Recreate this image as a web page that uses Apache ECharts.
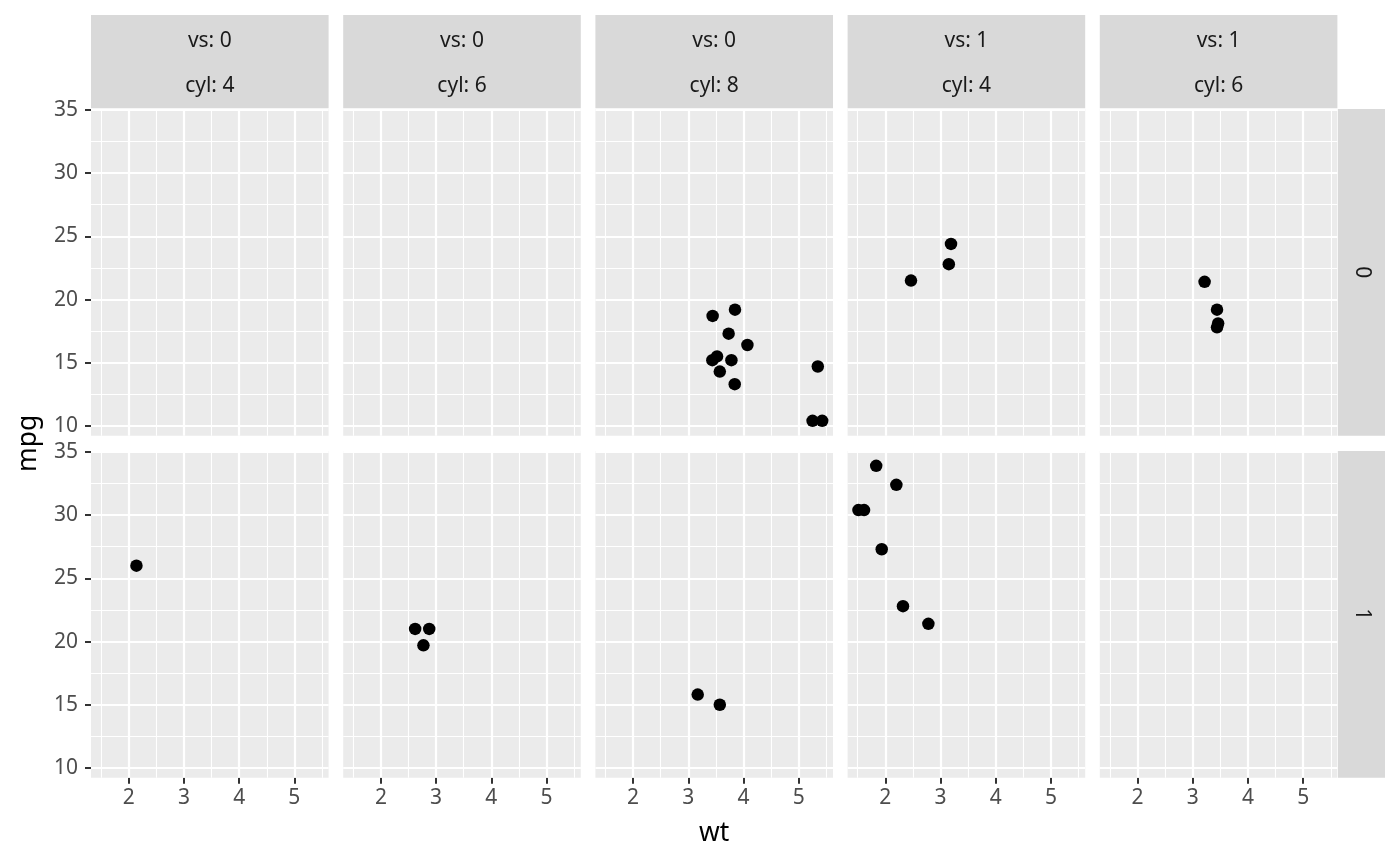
<!DOCTYPE html>
<html>
<head>
<meta charset="utf-8">
<script src="https://cdn.jsdelivr.net/npm/echarts@6/dist/echarts.min.js"></script>
<style>
  html, body { margin: 0; padding: 0; background: #fff; }
  #chart { width: 1400px; height: 866px; }
</style>
</head>
<body>
<div id="chart"></div>
<script>
// mtcars columns (as plotted)
const wt  = [2.620, 2.875, 2.320, 3.215, 3.440, 3.460, 3.570, 3.190, 3.150, 3.440, 3.440, 4.070, 3.730, 3.780, 5.250, 5.424, 5.345, 2.200, 1.615, 1.835, 2.465, 3.520, 3.435, 3.840, 3.845, 1.935, 2.140, 1.513, 3.170, 2.770, 3.570, 2.780]
const mpg = [21.0, 21.0, 22.8, 21.4, 18.7, 18.1, 14.3, 24.4, 22.8, 19.2, 17.8, 16.4, 17.3, 15.2, 10.4, 10.4, 14.7, 32.4, 30.4, 33.9, 21.5, 15.5, 15.2, 13.3, 19.2, 27.3, 26.0, 30.4, 15.8, 19.7, 15.0, 21.4]
const cyl = [6, 6, 4, 6, 8, 6, 8, 4, 4, 6, 6, 8, 8, 8, 8, 8, 8, 4, 4, 4, 4, 8, 8, 8, 8, 4, 4, 4, 8, 6, 8, 4]
const vs  = [0, 0, 1, 1, 0, 1, 0, 1, 1, 1, 1, 0, 0, 0, 0, 0, 0, 1, 1, 1, 1, 0, 0, 0, 0, 1, 0, 1, 0, 0, 0, 1]
const am  = [1, 1, 1, 0, 0, 0, 0, 0, 0, 0, 0, 0, 0, 0, 0, 0, 0, 1, 1, 1, 0, 0, 0, 0, 0, 1, 1, 1, 1, 1, 1, 1]

// facet columns (vs, cyl) and rows (am)
const colVs = [0, 0, 0, 1, 1]
const colCyl = [4, 6, 8, 4, 6]
const rowAm = [0, 1]

// scales and ticks
const xMin = 1.317, xMax = 5.620
const yMin = 9.225, yMax = 35.075
const xMajor = [2, 3, 4, 5]
const xMinor = [1.5, 2.5, 3.5, 4.5, 5.5]
const yMajor = [10, 15, 20, 25, 30, 35]
const yMinor = [12.5, 17.5, 22.5, 27.5, 32.5]

// layout (px)
const left0 = 91, panelW = 237.6, gapX = 14.6
const tops = [109, 451], panelH = 326.7
const stripH = 93.3, rightStripW = 47

const font = "Noto Sans"
const textSize = 21
const titleSize = 26.4
const chart = echarts.init(document.getElementById("chart"), null, { renderer: "canvas" })

const grids = [], xAxes = [], yAxes = [], series = [], graphics = []

rowAm.forEach((a, r) => {
  colVs.forEach((v, c) => {
    const idx = grids.length
    const gl = left0 + c * (panelW + gapX)
    grids.push({ left: gl, top: tops[r], width: panelW, height: panelH, show: true, backgroundColor: "#EBEBEB", borderWidth: 0 })
    const isBottom = r === rowAm.length - 1
    const isLeft = c === 0
    xAxes.push({
      gridIndex: idx, type: "value", min: xMin, max: xMax,
      axisLine: { show: false },
      splitLine: { show: false },
      axisTick: { show: isBottom, customValues: xMajor, length: 6, lineStyle: { color: "#333333", width: 2 } },
      axisLabel: { show: isBottom, customValues: xMajor, margin: 10, color: "#4D4D4D", fontSize: textSize, fontFamily: font }
    })
    yAxes.push({
      gridIndex: idx, type: "value", min: yMin, max: yMax,
      axisLine: { show: false },
      splitLine: { show: false },
      axisTick: { show: isLeft, customValues: yMajor, length: 6, lineStyle: { color: "#333333", width: 2 } },
      axisLabel: { show: isLeft, customValues: yMajor, margin: 13, color: "#4D4D4D", fontSize: textSize, fontFamily: font }
    })

    // panel grid lines drawn through the axis scales
    const lines = []
    xMinor.forEach(x => lines.push({ xAxis: x, lineStyle: { width: 1.1 } }))
    yMinor.forEach(y => lines.push({ yAxis: y, lineStyle: { width: 1.1 } }))
    xMajor.forEach(x => lines.push({ xAxis: x, lineStyle: { width: 2.2 } }))
    yMajor.forEach(y => lines.push({ yAxis: y, lineStyle: { width: 2.2 } }))
    series.push({
      type: "scatter", xAxisIndex: idx, yAxisIndex: idx, data: [], z: 1, silent: true,
      markLine: {
        z: 1, silent: true, symbol: ["none", "none"], animation: false,
        label: { show: false },
        lineStyle: { color: "#FFFFFF", type: "solid" },
        emphasis: { disabled: true },
        data: lines
      }
    })

    const pts = []
    for (let i = 0; i < wt.length; i++) {
      if (vs[i] === v && cyl[i] === colCyl[c] && am[i] === a) pts.push([wt[i], mpg[i]])
    }
    series.push({
      type: "scatter", xAxisIndex: idx, yAxisIndex: idx, data: pts, z: 10,
      symbol: "circle", symbolSize: 12.5, itemStyle: { color: "#000000", opacity: 1 }, animation: false
    })

    // top strips
    if (r === 0) {
      const sy = tops[0] - 0.7 - stripH
      graphics.push({ type: "rect", z: 0, shape: { x: gl, y: sy, width: panelW, height: stripH }, style: { fill: "#D9D9D9" } })
      graphics.push({ type: "text", x: gl + panelW / 2, y: sy + stripH * 0.25 + 2.5, style: { text: "vs: " + v, font: textSize + "px " + font, fill: "#1A1A1A", align: "center", verticalAlign: "middle" } })
      graphics.push({ type: "text", x: gl + panelW / 2, y: sy + stripH * 0.75 + 1.5, style: { text: "cyl: " + colCyl[c], font: textSize + "px " + font, fill: "#1A1A1A", align: "center", verticalAlign: "middle" } })
    }
  })
  // right strips
  const sx = left0 + colVs.length * panelW + (colVs.length - 1) * gapX + 0.6
  graphics.push({ type: "rect", shape: { x: sx, y: tops[r], width: rightStripW, height: panelH }, style: { fill: "#D9D9D9" } })
  graphics.push({ type: "text", x: sx + rightStripW / 2, y: tops[r] + panelH / 2, rotation: -Math.PI / 2, style: { text: String(a), font: textSize + "px " + font, fill: "#1A1A1A", align: "center", verticalAlign: "middle" } })
})

// axis titles
const plotRight = left0 + colVs.length * panelW + (colVs.length - 1) * gapX
graphics.push({ type: "text", x: (left0 + plotRight) / 2, y: 833, style: { text: "wt", font: titleSize + "px " + font, fill: "#000000", align: "center", verticalAlign: "middle" } })
graphics.push({ type: "text", x: 28, y: (tops[0] + tops[1] + panelH) / 2, rotation: Math.PI / 2, style: { text: "mpg", font: titleSize + "px " + font, fill: "#000000", align: "center", verticalAlign: "middle" } })

chart.setOption({
  backgroundColor: "#FFFFFF",
  animation: false,
  grid: grids,
  xAxis: xAxes,
  yAxis: yAxes,
  series: series,
  graphic: graphics
})
</script>
</body>
</html>
